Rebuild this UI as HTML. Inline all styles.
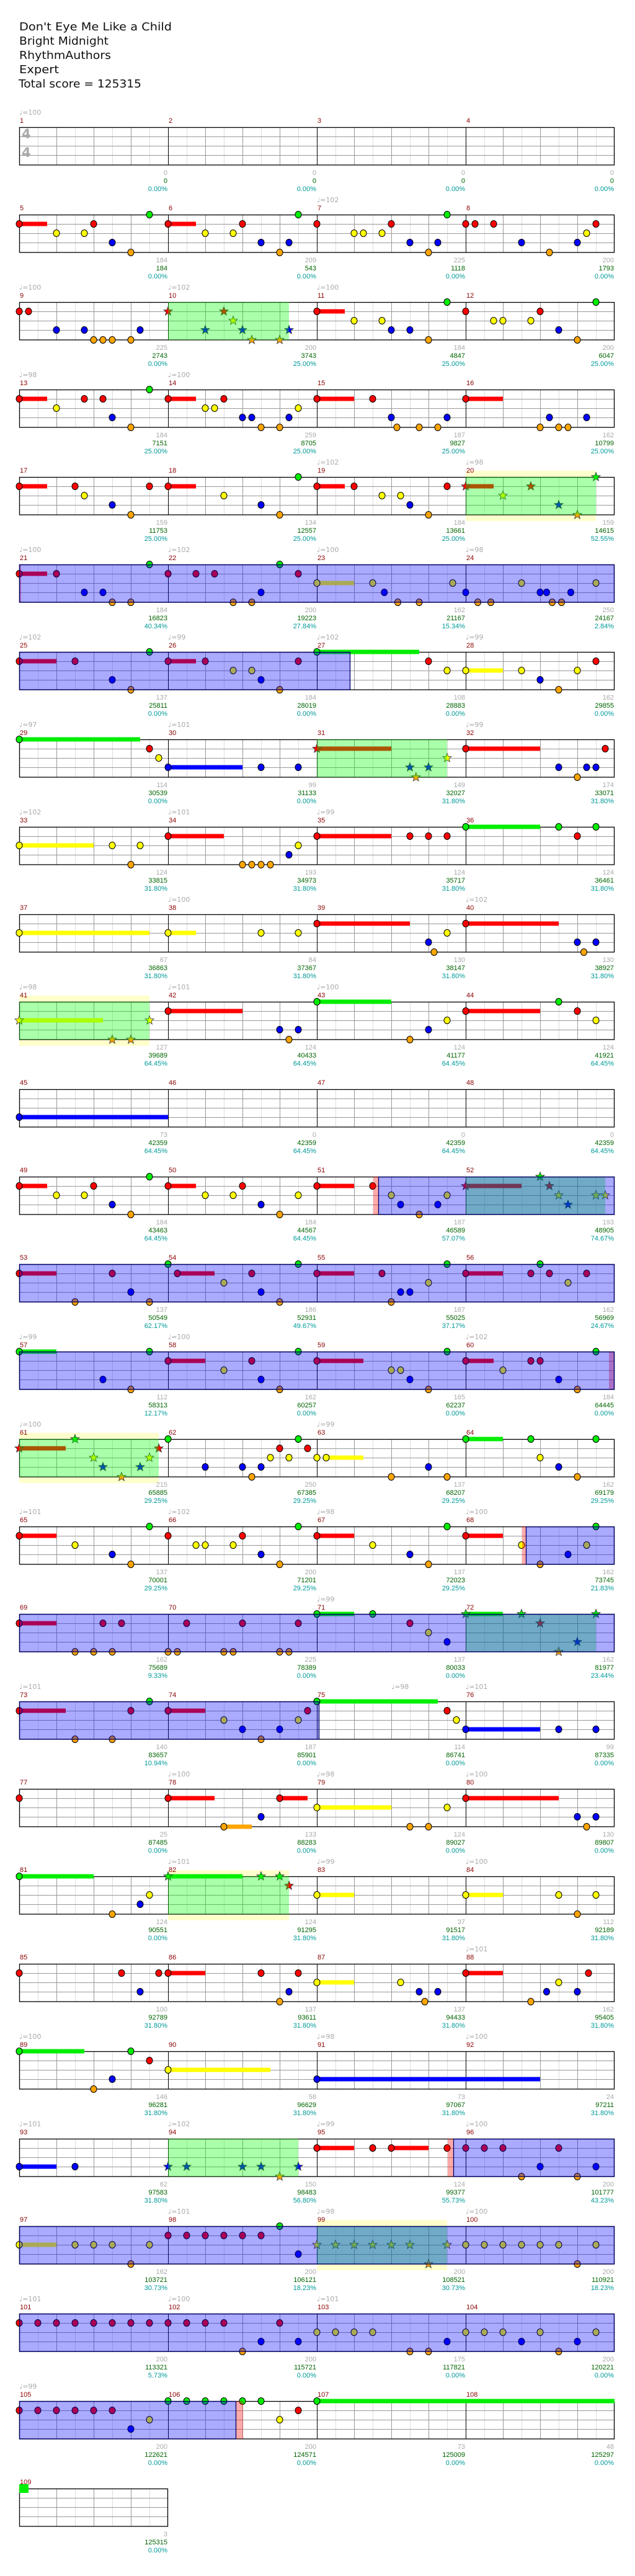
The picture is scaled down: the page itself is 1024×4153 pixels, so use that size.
<!DOCTYPE html>
<html><head><meta charset="utf-8"><style>
html,body{margin:0;padding:0;background:#fff;}
svg{display:block}
</style></head><body>
<svg id="s" xmlns="http://www.w3.org/2000/svg" width="1024" height="4153" viewBox="0 0 1024 4153">
<rect width="1024" height="4153" fill="#fff"/>
<g font-family="DejaVu Sans, sans-serif" font-size="18" fill="#111">
<text x="31" y="49" textLength="246" lengthAdjust="spacingAndGlyphs">Don't Eye Me Like a Child</text>
<text x="31" y="72" textLength="144" lengthAdjust="spacingAndGlyphs">Bright Midnight</text>
<text x="31" y="95" textLength="148" lengthAdjust="spacingAndGlyphs">RhythmAuthors</text>
<text x="31" y="118" textLength="64" lengthAdjust="spacingAndGlyphs">Expert</text>
<text x="30" y="141" textLength="198" lengthAdjust="spacingAndGlyphs">Total score = 125315</text>
</g>
<g id="g"></g>
</svg>
<script>
(function(){
var LN={g:0,r:15,y:30,b:45,o:61};
var C={g:'#00ee00',r:'#ff0000',y:'#ffff00',b:'#0000ff',o:'#ffa500'};
var M={
5:"r0-3 y4 y7 r8 b10 o12 g14",
6:"r0-3 y4 y7 r8 b10 o12 b13 g14",
7:"r0 y4 y5 y7 r8 b10 o12 b13 g14",
8:"r0 r1 r3 b6 o9 b12 y13 r14",
9:"r0 r1 b4 b7 o8 o9 o10 o12 b13",
10:"*r0 *b4 *r6 *y7 *b8 *o9 *o12 *b13",
11:"r0-3 y4 y7 b8 b10 o12 g14",
12:"r0 y3 y4 y7 r8 b10 o12 g14",
13:"r0-3 y4 r7 r9 b10 o12 g14",
14:"r0-3 y4 y5 r6 b8 b9 o10 o12 b13 y14",
15:"r0-4 r6 b8 o8.6 o11 o13 b14",
16:"r0-4 o8 b9 o10 o11 b13",
17:"r0-3 r6 y7 b10 o12 r14",
18:"r0-3 y6 b10 o12 g14",
19:"r0-3 r4 y7 y9 b10 o12 r14",
20:"*r0-3 *y4 *r7 *b10 *o12 *g14",
21:"r0-3 r4 b7 b9 o10 o12 g14",
22:"r0 r3 r5 o7 o9 b10 g12 r14",
23:"y0-4 y6 b7.25 o8.7 o11 y14.6",
24:"b0 o1.3 o2.7 y6 b8 b8.7 o9.3 o10.3 b11.3 y14",
25:"r0-4 r6 b10 o12 g14",
26:"r0-3 r4 y7 y9 b10 o12 r14",
27:"g0-11 r12 y14",
28:"y0-4 y6 b8 o10 y12 r14",
29:"g0-13 r14 y15",
30:"b0-8 b10 b14",
31:"*r0-8 *b10 *o10.65 *b12 *y14",
32:"r0-8 b10 o12 b13 b14 r15",
33:"y0-8 y10 o12 y13",
34:"r0-6 o8 o9 o10 o11 b13 y14",
35:"r0-8 r10 r12 r14",
36:"g0-8 g10 r12 g14",
37:"y0-14",
38:"y0-3 y10 y14",
39:"r0-10 b12 o12.6 y14",
40:"r0-10 b12 o12.7 b14",
41:"*y0-9 *o10 *o12 *y14",
42:"r0-8 b12 o13 b14",
43:"g0-8 o10 b12 y14",
44:"r0-8 g10 r12 y14",
45:"b0-16",
49:"r0-3 y4 y7 r8 b10 o12 g14",
50:"r0-3 y4 y7 r8 b10 o12 y14",
51:"r0-4 r6 y8 b9 o11 b13 y14",
52:"*r0-6 *g8 *r9 *y10 *b11 *y14 *y15",
53:"r0-4 o6 r10 b12 o14",
54:"g0 r1-4 y6 r9 b10 o12 g14",
55:"r0-4 r7 o8 b9 b10 y12 g14",
56:"r0-4 r7 g8 r9 y11 r13",
57:"g0-4 b9 o12 g14",
58:"r0-4 y6 r9 b10 o12 g14",
59:"r0-5 y8 y9 b10 o12 g14",
60:"r0-3 y4 r7 r8 b10 o12 g14",
61:"*r0-5 *g6 *y8 *b9 *o11 *b13 *y14 *r15",
62:"g0 b4 b8 o9 b10 y11 r12 y13 g14 r15",
63:"y0 y1-4 o8 b12 o14",
64:"g0-4 g7 y8 b10 o12 g14",
65:"r0-4 y6 b10 o12 g14",
66:"r0 y3 y4 y7 r8 b10 o12 g14",
67:"r0-4 y6 b10 o12 g14",
68:"r0-4 y6 o8 b11 y13 g14",
69:"r0-4 o6 o8 r9 o10 r11",
70:"o0 o1 r2 o6 o7 r8 o12 o13 r14",
71:"g0-4 g6 r10 y12 b14",
72:"*g0-4 *g6 *r8 *o10 *b12 *g14",
73:"r0-5 o6 o10 r12 g14",
74:"r0-4 y6 b8 o10 b12 y14 r15",
75:"g0-13 r14 y15",
76:"b0-8 b10 b14",
77:"r0",
78:"r0-5 o6-3 b10 r12-3",
79:"y0-8 o10 o12 y14",
80:"r0-10 b12 o13 b14",
81:"g0-8 o10 b13 y14",
82:"*g0-8 *g10 *g12 *r13",
83:"y0-4",
84:"y0-4 y10 o12 y14",
85:"r0 r11 b13 r15",
86:"r0-4 r10 o12 b13 r14",
87:"y0-4 y9 b11 o11.6 b13",
88:"r0-4 o7 b8.7 y10 b12 r13.2",
89:"g0-7 o8 b10 g12 r14",
90:"y0-11",
91:"b0-24",
93:"b0-4 b6",
94:"*b0 *b2 *b8 *b10 *o12 *b14",
95:"r0-4 r6 r8-4 r14",
96:"r0 r2 r4 o6 b8 r10 o12 b14",
97:"y0-4 y6 y8 y10 o12 y14",
98:"r0 r2 r4 r6 r8 r10 g12 b14",
99:"*y0 *y2 *y4 *y6 *y8 *y10 *o12 *y14",
100:"y0 y2 y4 y6 y8 y10 o12 y14",
101:"r0 r2 r4 r6 r8 r10 r12 r14",
102:"r0 r2 r4 r6 o8 b10 r12 b14",
103:"y0 y2 y4 y6 o10 o12 b14",
104:"y0 y2 y4 b6 y8 o10 b12 y14",
105:"r0 r2 r4 r6 r8 r10 b12 y14",
106:"g0 g2 g4 g6 g8 g10 y12 r14",
107:"g0-32"
};
var NUMS="0 0 0.00|0 0 0.00|0 0 0.00|0 0 0.00|184 184 0.00|209 543 0.00|225 1118 0.00|200 1793 0.00|225 2743 0.00|200 3743 25.00|184 4847 25.00|200 6047 25.00|184 7151 25.00|259 8705 25.00|187 9827 25.00|162 10799 25.00|159 11753 25.00|134 12557 25.00|184 13661 25.00|159 14615 52.55|184 16823 40.34|200 19223 27.84|162 21167 15.34|250 24167 2.84|137 25811 0.00|184 28019 0.00|108 28883 0.00|162 29855 0.00|114 30539 0.00|99 31133 0.00|149 32027 31.80|174 33071 31.80|124 33815 31.80|193 34973 31.80|124 35717 31.80|124 36461 31.80|67 36863 31.80|84 37367 31.80|130 38147 31.80|130 38927 31.80|127 39689 64.45|124 40433 64.45|124 41177 64.45|124 41921 64.45|73 42359 64.45|0 42359 64.45|0 42359 64.45|0 42359 64.45|184 43463 64.45|184 44567 64.45|187 46589 57.07|193 48905 74.67|137 50549 62.17|186 52931 49.67|187 55025 37.17|162 56969 24.67|112 58313 12.17|162 60257 0.00|165 62237 0.00|184 64445 0.00|215 65885 29.25|250 67385 29.25|137 68207 29.25|162 69179 29.25|137 70001 29.25|200 71201 29.25|137 72023 29.25|162 73745 21.83|162 75689 9.33|225 78389 0.00|137 80033 0.00|162 81977 23.44|140 83657 10.94|187 85901 0.00|114 86741 0.00|99 87335 0.00|25 87485 0.00|133 88283 0.00|124 89027 0.00|130 89807 0.00|124 90551 0.00|124 91295 31.80|37 91517 31.80|112 92189 31.80|100 92789 31.80|137 93611 31.80|137 94433 31.80|162 95405 31.80|146 96281 31.80|58 96629 31.80|73 97067 31.80|24 97211 31.80|62 97583 31.80|150 98483 56.80|124 99377 55.73|200 101777 43.23|162 103721 30.73|200 106121 18.23|200 108521 30.73|200 110921 18.23|200 113321 5.73|200 115721 0.00|175 117821 0.00|200 120221 0.00|200 122621 0.00|200 124571 0.00|73 125009 0.00|48 125297 0.00|3 125315 0.00".split('|');
var TEMPO={1:100,7:102,9:100,10:102,11:100,13:98,14:100,19:102,20:98,21:100,22:102,23:100,24:98,25:102,26:99,27:102,28:99,29:97,30:101,32:99,33:102,34:101,35:99,38:100,40:102,41:98,42:101,43:100,57:99,58:100,60:102,61:100,63:99,65:101,66:102,67:98,68:100,71:99,73:101,76:101,78:100,79:98,80:100,82:101,83:99,84:100,88:101,89:100,91:98,92:100,93:101,94:102,95:99,96:100,98:101,99:98,100:100,101:101,102:100,103:101,105:99};
var R={
2:[['G',271,466]],
4:[['Y',751,961],['G',751,961]],
5:[['B',31,991],['P',31,34]],
6:[['B',31,565]],
7:[['G',511,721]],
10:[['Y',31,241],['G',31,241]],
12:[['P',602,610],['B',610,991],['G',751,976]],
13:[['B',31,991]],
14:[['B',31,991],['P',982,991]],
15:[['Y',31,256],['G',31,256]],
16:[['P',842,848],['B',848,991]],
17:[['B',31,991],['G',751,961]],
18:[['B',31,515]],
20:[['Y',271,466],['G',271,466]],
23:[['G',271,481],['P',722,731],['B',731,991]],
24:[['B',31,991],['Y',511,721],['G',511,721]],
25:[['B',31,991]],
26:[['B',31,381],['P',381,392]]
};
var o=[];
function T(r){return 205+r*141;}
function star(cx,cy,r){var p=[];for(var i=0;i<10;i++){var a=-Math.PI/2+i*Math.PI/5;var rr=i%2?r*0.42:r;p.push((cx+rr*Math.cos(a)).toFixed(1)+','+(cy+rr*Math.sin(a)).toFixed(1));}return p.join(' ');}
for(var row=0;row<28;row++){
 var t=T(row);var nm=row<27?4:1;var x0=31,x1=31+nm*240;
 var reg=R[row]||[];
 reg.forEach(function(g){if(g[0]=='Y')o.push('<rect x="'+g[1]+'" y="'+(t-10)+'" width="'+(g[2]-g[1])+'" height="81" fill="#ffffcc"/>');});
 o.push('<rect x="'+x0+'" y="'+t+'" width="'+(x1-x0)+'" height="61" fill="#fff"/>');
 for(var k=0;k<nm*8;k++){var x=x0+k*30;if(k%8==0)continue;o.push('<line x1="'+(x+.5)+'" y1="'+t+'" x2="'+(x+.5)+'" y2="'+(t+61)+'" stroke="'+(k%2?'#dddddd':'#999999')+'"/>');}
 for(var l=1;l<4;l++){o.push('<line x1="'+x0+'" y1="'+(t+l*15+.5)+'" x2="'+x1+'" y2="'+(t+l*15+.5)+'" stroke="#999999"/>');}
 for(var k=1;k<nm;k++){var x=x0+k*240;o.push('<line x1="'+(x+.5)+'" y1="'+t+'" x2="'+(x+.5)+'" y2="'+(t+61)+'" stroke="#000"/>');}
 o.push('<rect x="'+(x0+.5)+'" y="'+(t+.5)+'" width="'+(x1-x0-1)+'" height="60.5" fill="none" stroke="#000" stroke-width="1.3"/>');
 if(row==0){o.push('<text x="35" y="223" font-family="DejaVu Sans,sans-serif" font-weight="bold" font-size="21" fill="#aaaaaa">4</text><text x="35" y="253" font-family="DejaVu Sans,sans-serif" font-weight="bold" font-size="21" fill="#aaaaaa">4</text>');}
 for(var k=0;k<nm;k++){
  var m=row*4+k+1;var mx=x0+k*240;
  o.push('<text x="'+(mx+1)+'" y="'+(t-7)+'" font-family="Liberation Sans,sans-serif" font-size="11" fill="#8b0000">'+m+'</text>');
  if(TEMPO[m])o.push('<text x="'+mx+'" y="'+(t-20)+'" font-family="DejaVu Sans,sans-serif" font-size="11" fill="#aaaaaa">&#9833;='+TEMPO[m]+'</text>');
  if(m==75)o.push('<text x="'+(mx+120)+'" y="'+(t-20)+'" font-family="DejaVu Sans,sans-serif" font-size="11" fill="#aaaaaa">&#9833;=98</text>');
  var n=NUMS[m-1].split(' ');var rx=mx+239;
  o.push('<g font-family="Liberation Sans,sans-serif" font-size="11" text-anchor="end"><text x="'+rx+'" y="'+(t+77)+'" fill="#aaaaaa">'+n[0]+'</text><text x="'+rx+'" y="'+(t+90)+'" fill="#006400">'+n[1]+'</text><text x="'+rx+'" y="'+(t+103)+'" fill="#009999">'+n[2]+'%</text></g>');
  var d=M[m];if(!d)continue;
  var items=d.split(' ');var bars=[],heads=[];
  items.forEach(function(s){var st=false;if(s[0]=='*'){st=true;s=s.slice(1);}var ln=s[0];var parts=s.slice(1).split('-');var p=parseFloat(parts[0]);var len=parts[1]?parseFloat(parts[1]):0;var cx=mx+p*15;var cy=t+LN[ln];
   if(len)bars.push('<rect x="'+cx+'" y="'+(cy-3.5)+'" width="'+(len*15)+'" height="7" fill="'+C[ln]+'"/>');
   if(st)heads.push('<polygon points="'+star(cx,cy,7.5)+'" fill="'+C[ln]+'" stroke="#333" stroke-width="0.8"/>');
   else heads.push('<ellipse cx="'+cx+'" cy="'+cy+'" rx="5" ry="5.5" fill="'+C[ln]+'" stroke="#000" stroke-width="1"/>');});
  o.push(bars.join('')+heads.join(''));
 }
 if(row==27)o.push('<rect x="31" y="'+(t-7)+'" width="15" height="14" fill="#00ee00"/>');
 ['G','P','B'].forEach(function(ty){
 reg.forEach(function(g){if(g[0]!=ty)return;var c=g[0]=='B'?'rgba(0,0,255,0.333)':g[0]=='G'?'rgba(0,255,0,0.333)':'rgba(255,0,0,0.333)';o.push('<rect x="'+g[1]+'" y="'+t+'" width="'+(g[2]-g[1])+'" height="61" fill="'+c+'"/>');
  if(g[0]=='B')o.push('<rect x="'+(g[1]+.5)+'" y="'+(t+.5)+'" width="'+(g[2]-g[1]-1)+'" height="60.5" fill="none" stroke="#000066" stroke-width="1.3"/>');});
 });
}
document.getElementById('g').innerHTML=o.join('');
})();
</script>
</body></html>
